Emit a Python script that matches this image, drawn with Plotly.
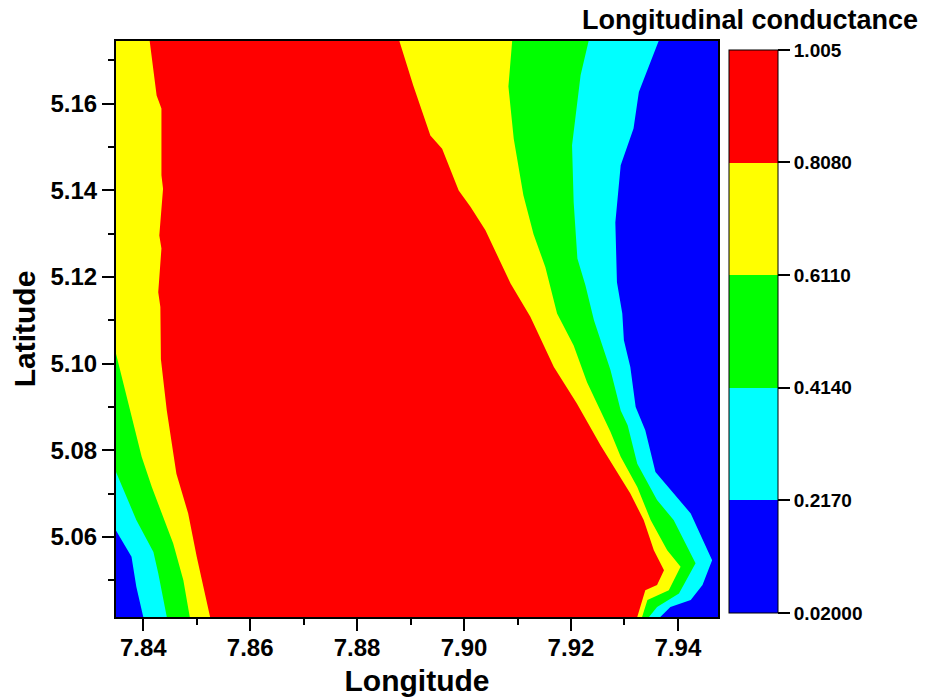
import plotly.graph_objects as go

# ---- data ----
LON_MIN, LON_MAX = 7.8349, 7.9475
LAT_MIN, LAT_MAX = 5.0415, 5.1745

levels = [0.02, 0.217, 0.414, 0.611, 0.808, 1.005]
level_labels = ["0.02000", "0.2170", "0.4140", "0.6110", "0.8080", "1.005"]
band_colors = ["#0000FF", "#00FFFF", "#00FF00", "#FFFF00", "#FF0000"]

# west-side contour boundaries (top -> bottom)
left_217_lon = [7.8349, 7.8378, 7.8387, 7.8400]
left_217_lat = [5.0615, 5.0554, 5.0485, 5.0415]
left_414_lon = [7.8349, 7.8366, 7.8387, 7.8419, 7.8428, 7.8444]
left_414_lat = [5.0750, 5.0700, 5.0639, 5.0565, 5.0516, 5.0415]
left_611_lon = [7.8349, 7.8366, 7.8381, 7.8397, 7.8416, 7.8437, 7.8456, 7.8475, 7.8487]
left_611_lat = [5.1023, 5.0939, 5.0862, 5.0785, 5.0715, 5.0646, 5.0585, 5.0500, 5.0415]
left_808_lon = [7.8412, 7.8425, 7.8434, 7.8434, 7.8437, 7.8430, 7.8434, 7.8428, 7.8432,
                7.8433, 7.8444, 7.8462, 7.8484, 7.8500, 7.8512, 7.8525]
left_808_lat = [5.1745, 5.1619, 5.1589, 5.1435, 5.1404, 5.1296, 5.1266, 5.1165, 5.1131,
                5.1010, 5.0892, 5.0746, 5.0654, 5.0554, 5.0485, 5.0415]

# east-side contour boundaries (top -> bottom)
right_808_lon = [7.8879, 7.8905, 7.8937, 7.8959, 7.8990, 7.9012, 7.9040, 7.9087, 7.9124, 7.9168,
                 7.9211, 7.9255, 7.9311, 7.9336, 7.9355, 7.9374, 7.9361, 7.9339, 7.9324]
right_808_lat = [5.1745, 5.1642, 5.1527, 5.1496, 5.1400, 5.1362, 5.1308, 5.1185, 5.1108, 5.0992,
                 5.0908, 5.0812, 5.0700, 5.0639, 5.0569, 5.0523, 5.0489, 5.0477, 5.0415]
right_611_lon = [7.9090, 7.9083, 7.9093, 7.9111, 7.9130, 7.9152, 7.9174, 7.9205, 7.9230, 7.9274,
                 7.9293, 7.9324, 7.9349, 7.9380, 7.9405, 7.9383, 7.9343, 7.9333]
right_611_lat = [5.1745, 5.1640, 5.1519, 5.1389, 5.1299, 5.1223, 5.1116, 5.1042, 5.0957, 5.0842,
                 5.0785, 5.0715, 5.0639, 5.0569, 5.0531, 5.0477, 5.0454, 5.0415]
right_414_lon = [7.9233, 7.9218, 7.9202, 7.9205, 7.9212, 7.9227, 7.9243, 7.9274, 7.9293, 7.9306,
                 7.9324, 7.9361, 7.9392, 7.9433, 7.9402, 7.9361, 7.9346]
right_414_lat = [5.1745, 5.1666, 5.1504, 5.1373, 5.1243, 5.1181, 5.1100, 5.0985, 5.0892, 5.0858,
                 5.0769, 5.0685, 5.0639, 5.0539, 5.0469, 5.0438, 5.0415]
right_217_lon = [7.9364, 7.9327, 7.9317, 7.9293, 7.9283, 7.9286, 7.9296, 7.9299, 7.9311, 7.9321,
                 7.9339, 7.9358, 7.9424, 7.9464, 7.9446, 7.9424, 7.9386, 7.9367]
right_217_lat = [5.1745, 5.1627, 5.1543, 5.1458, 5.1326, 5.1188, 5.1116, 5.1054, 5.0992, 5.0900,
                 5.0846, 5.0750, 5.0654, 5.0546, 5.0489, 5.0454, 5.0438, 5.0415]

# ---- build region polygons (value >= level) ----
PAD = 0.003


def region(llon, llat, rlon, rlat):
    xs, ys = [], []
    if llat[0] >= LAT_MAX - 1e-9:
        xs += [llon[0]]
        ys += [LAT_MAX + PAD]
    else:
        xs += [LON_MIN - PAD, LON_MIN - PAD]
        ys += [LAT_MAX + PAD, llat[0]]
    xs += llon + [llon[-1]]
    ys += llat + [LAT_MIN - PAD]
    xs += [rlon[-1]] + rlon[::-1] + [rlon[0]]
    ys += [LAT_MIN - PAD] + rlat[::-1] + [LAT_MAX + PAD]
    return xs, ys


regions = [
    ([LON_MIN - PAD, LON_MIN - PAD, LON_MAX + PAD, LON_MAX + PAD],
     [LAT_MAX + PAD, LAT_MIN - PAD, LAT_MIN - PAD, LAT_MAX + PAD]),
    region(left_217_lon, left_217_lat, right_217_lon, right_217_lat),
    region(left_414_lon, left_414_lat, right_414_lon, right_414_lat),
    region(left_611_lon, left_611_lat, right_611_lon, right_611_lat),
    region(left_808_lon, left_808_lat, right_808_lon, right_808_lat),
]

fig = go.Figure()
for (xs, ys), col in zip(regions, band_colors):
    fig.add_trace(go.Scatter(x=xs, y=ys, mode="lines", fill="toself", fillcolor=col,
                             line=dict(width=0, color=col), hoverinfo="skip",
                             showlegend=False))

# colour bar
n = len(band_colors)
cscale = []
for i, c in enumerate(band_colors):
    cscale += [[i / n, c], [(i + 1) / n, c]]

FONT = "Arial, 'Liberation Sans', sans-serif"
W, H = 936, 699
ML, MR, MT, MB = 116, 218, 41, 82
pw, ph = W - ML - MR, H - MT - MB

fig.add_trace(go.Scatter(
    x=[None, None], y=[None, None], mode="markers", showlegend=False, hoverinfo="skip",
    marker=dict(color=[levels[0], levels[-1]], cmin=levels[0], cmax=levels[-1],
                colorscale=cscale, showscale=True,
                colorbar=dict(
                    x=(729 - ML) / pw, xanchor="left", xpad=0,
                    y=(H - MB - 331.35) / ph, yanchor="middle", ypad=0,
                    lenmode="pixels", len=562.7, thickness=49,
                    outlinewidth=1, outlinecolor="black",
                    tickmode="array", tickvals=levels, ticktext=level_labels,
                    ticks="outside", ticklen=12, tickwidth=1.5, tickcolor="black",
                    tickfont=dict(family=FONT, size=19, color="black", weight="bold"),
                ))))

fig.add_annotation(text="Longitudinal conductance", xref="paper", yref="paper",
                   x=(920 - ML) / pw, y=(H - MB - 20) / ph, xanchor="right", yanchor="middle",
                   showarrow=False,
                   font=dict(family=FONT, size=27, color="black", weight="bold"))

axis_common = dict(
    showgrid=False, zeroline=False, showline=True, linecolor="black", linewidth=2,
    mirror=True, ticks="outside", ticklen=12, tickwidth=2, tickcolor="black",
    tickfont=dict(family=FONT, size=24, color="black", weight="bold"),
    tickformat=".2f", dtick=0.02,
)

fig.update_layout(
    width=W, height=H,
    margin=dict(l=ML, r=MR, t=MT, b=MB, autoexpand=False),
    paper_bgcolor="white", plot_bgcolor="white",
    font=dict(family=FONT, color="black"),
    xaxis=dict(range=[LON_MIN, LON_MAX], tick0=7.84, ticklabelstandoff=-4,
               minor=dict(ticks="outside", ticklen=6, tickwidth=2, tickcolor="black", dtick=0.01),
               title=dict(text="Longitude", standoff=10,
                          font=dict(family=FONT, size=30, color="black", weight="bold")),
               **axis_common),
    yaxis=dict(range=[LAT_MIN, LAT_MAX], tick0=5.06,
               minor=dict(ticks="outside", ticklen=6, tickwidth=2, tickcolor="black", dtick=0.01),
               title=dict(text="Latitude", standoff=6,
                          font=dict(family=FONT, size=30, color="black", weight="bold")),
               **axis_common),
)

fig.write_html("out.html")
